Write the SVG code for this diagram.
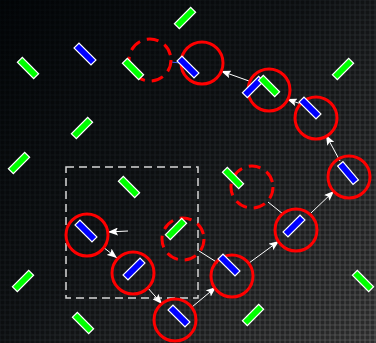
<svg xmlns="http://www.w3.org/2000/svg" width="376" height="343" viewBox="0 0 376 343">
<defs>
<linearGradient id="bg" x1="0" y1="0" x2="376" y2="343" gradientUnits="userSpaceOnUse">
<stop offset="0" stop-color="#03070a"/>
<stop offset="0.45" stop-color="#161a1d"/>
<stop offset="1" stop-color="#515151"/>
</linearGradient>
<pattern id="carbon" width="5" height="5" patternUnits="userSpaceOnUse">
<rect x="0.6" y="0.6" width="3.8" height="3.8" rx="1" fill="#000" fill-opacity="0.45"/>
</pattern>
<marker id="ah" markerUnits="userSpaceOnUse" markerWidth="10" markerHeight="8" refX="10" refY="4" orient="auto">
<path d="M0,0 L10,4 L0,8 L2,4 z" fill="#fff"/>
</marker>
</defs>
<style>
.g{fill:#00ff00;stroke:#fff;stroke-width:1.2}
.b{fill:#0000ff;stroke:#fff;stroke-width:1.2}
.c{fill:none;stroke:#ff0000;stroke-width:3}
.d{fill:none;stroke:#ff0000;stroke-width:3;stroke-dasharray:12 7}
.a{stroke:#fff;stroke-width:1;fill:none;marker-end:url(#ah)}
.l{stroke:#fff;stroke-width:1;fill:none}
</style>
<rect width="376" height="343" fill="url(#bg)"/>
<rect width="376" height="343" fill="url(#carbon)"/>
<rect id="selection" x="66" y="167" width="132" height="131" fill="none" stroke="#d8d8d8" stroke-width="1.5" stroke-dasharray="8 5"/>

<g id="connectors">
<line class="a" x1="249" y1="81" x2="221" y2="71"/>
<line class="a" x1="301" y1="104" x2="287" y2="99"/>
<line class="a" x1="340" y1="161" x2="326" y2="135"/>
<line class="a" x1="311" y1="213" x2="334" y2="191"/>
<line class="a" x1="249" y1="263" x2="279" y2="241"/>
<line class="a" x1="192" y1="307" x2="216" y2="287"/>
<line class="a" x1="147" y1="287" x2="162" y2="304"/>
<line class="a" x1="103" y1="247" x2="117" y2="258"/>
<line class="a" x1="128" y1="231" x2="108" y2="232"/>
<line class="l" x1="268" y1="202" x2="283" y2="214"/>
<line class="l" x1="199" y1="251" x2="218" y2="263"/>
<line x1="171" y1="62" x2="180" y2="63" stroke="#3a5cff" stroke-width="1"/>
</g>

<g id="dashed1"><circle class="d" cx="150" cy="60" r="21"/></g>
<g id="dashed2"><circle class="d" cx="183" cy="239" r="21"/></g>
<g id="dashed3"><circle class="d" cx="252" cy="187" r="21"/></g>

<g id="green1"><rect class="g" x="-11.5" y="-3.5" width="23" height="7" transform="translate(185,18) rotate(-45)"/></g>
<g id="green2"><rect class="g" x="-11.5" y="-3.5" width="23" height="7" transform="translate(28,68) rotate(45)"/></g>
<g id="green3"><rect class="g" x="-11.5" y="-3.5" width="23" height="7" transform="translate(133,69) rotate(45)"/></g>
<g id="green4"><rect class="g" x="-11.5" y="-3.5" width="23" height="7" transform="translate(82,128) rotate(-45)"/></g>
<g id="green5"><rect class="g" x="-11.5" y="-3.5" width="23" height="7" transform="translate(19,163) rotate(-45)"/></g>
<g id="green6"><rect class="g" x="-11.5" y="-3.5" width="23" height="7" transform="translate(343,69) rotate(-45)"/></g>
<g id="green8"><rect class="g" x="-11.5" y="-3.5" width="23" height="7" transform="translate(129,187) rotate(45)"/></g>
<g id="green9"><rect class="g" x="-11.5" y="-3.5" width="23" height="7" transform="translate(233,178) rotate(45)"/></g>
<g id="green10"><rect class="g" x="-11.5" y="-3.5" width="23" height="7" transform="translate(176,229) rotate(-45)"/></g>
<g id="green11"><rect class="g" x="-11.5" y="-3.5" width="23" height="7" transform="translate(23,281) rotate(-45)"/></g>
<g id="green12"><rect class="g" x="-11.5" y="-3.5" width="23" height="7" transform="translate(83,323) rotate(45)"/></g>
<g id="green13"><rect class="g" x="-11.5" y="-3.5" width="23" height="7" transform="translate(253,315) rotate(-45)"/></g>
<g id="green14"><rect class="g" x="-11.5" y="-3.5" width="23" height="7" transform="translate(363,281) rotate(45)"/></g>

<g id="blue1"><rect class="b" x="-12" y="-3.5" width="24" height="7" transform="translate(85,54) rotate(45)"/></g>

<g id="node1"><circle class="c" cx="202" cy="63" r="21"/><rect class="b" x="-12" y="-3.5" width="24" height="7" transform="translate(188,67) rotate(45)"/></g>
<g id="node2"><circle class="c" cx="269" cy="90" r="21"/><rect class="b" x="-11.5" y="-3.5" width="23" height="7" transform="translate(253,87) rotate(-45)"/><rect class="g" x="-11.5" y="-3.5" width="23" height="7" transform="translate(269,86) rotate(45)"/></g>
<g id="node3"><circle class="c" cx="316" cy="118" r="21"/><rect class="b" x="-12" y="-3.5" width="24" height="7" transform="translate(310,108) rotate(45)"/></g>
<g id="node4"><circle class="c" cx="349" cy="177" r="21"/><rect class="b" x="-12" y="-3.5" width="24" height="7" transform="translate(348,173) rotate(50)"/></g>
<g id="node5"><circle class="c" cx="296" cy="230" r="21"/><rect class="b" x="-12" y="-3.5" width="24" height="7" transform="translate(294,226) rotate(-45)"/></g>
<g id="node6"><circle class="c" cx="232" cy="276" r="21"/><rect class="b" x="-12" y="-3.5" width="24" height="7" transform="translate(229,265) rotate(45)"/></g>
<g id="node7"><circle class="c" cx="87" cy="235" r="21"/><rect class="b" x="-12" y="-3.5" width="24" height="7" transform="translate(86,231) rotate(45)"/></g>
<g id="node8"><circle class="c" cx="133" cy="273" r="21"/><rect class="b" x="-12" y="-3.5" width="24" height="7" transform="translate(134,269) rotate(-45)"/></g>
<g id="node9"><circle class="c" cx="175" cy="320" r="21"/><rect class="b" x="-12" y="-3.5" width="24" height="7" transform="translate(179,316) rotate(45)"/></g>
</svg>
